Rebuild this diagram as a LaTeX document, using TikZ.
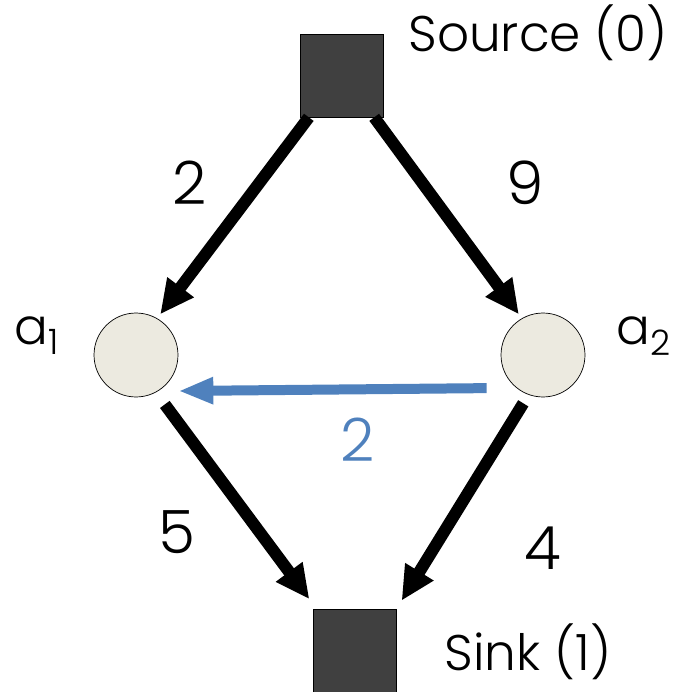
\documentclass[tikz,border=0pt]{standalone}
\usepackage{fontspec}
\setmainfont{Poppins Light}
\usetikzlibrary{arrows.meta,positioning}
\definecolor{darkbox}{RGB}{64, 64, 64}
\definecolor{nodefill}{RGB}{236, 234, 224}
\definecolor{flowblue}{RGB}{79, 129, 189}

\begin{document}
\begin{tikzpicture}[
    x=0.02cm, y=-0.02cm,
    terminal/.style={rectangle, draw=black, thin, fill=darkbox,
        minimum size=1.66cm, inner sep=0pt},
    inner/.style={circle, draw=black, thin, fill=nodefill,
        minimum size=1.68cm, inner sep=0pt},
    flow/.style={-{Triangle[length=0.68cm, width=0.62cm]}, line width=0.24cm},
    backflow/.style={-{Triangle[length=0.7cm, width=0.5cm]}, line width=0.2cm,
        draw=flowblue},
    cost/.style={font=\fontsize{34}{38}\selectfont},
    label/.style={font=\fontsize{28.5}{33}\selectfont}
]
\useasboundingbox (0,0) rectangle (675,692);

% Quelle, Senke und Zwischenknoten
\node[terminal] (src) at (341.5,75.5) {};
\node[terminal] (snk) at (354.5,651) {};
\node[inner] (a1) at (136,355) {};
\node[inner] (a2) at (543,355) {};

\node[label] (srclabel) at (538,33) {Source (0)};
\node[label] (snklabel) at (528,652) {Sink (1)};
\node[label] (a1label) at (37,336) {a\textsubscript{1}};
\node[label] (a2label) at (644,336) {a\textsubscript{2}};

% Kanten mit Kosten
\draw[flow, shorten >=0.1cm] (src.232) -- (a1.60);
\draw[flow, shorten >=0.1cm] (src.-52) -- (a2.120);
\draw[flow, shorten <=0.3cm, shorten >=0.25cm] (a1.-62) -- (snk.132);
\draw[flow, shorten <=0.2cm, shorten >=0.2cm] (a2.-110) -- (snk.north east);
\draw[backflow, shorten <=0.28cm] ([yshift=-0.66cm]a2.west) -- ([yshift=-0.72cm]a1.east);

\node[cost] (c1) at (190,183) {2};
\node[cost] (c2) at (525,183) {9};
\node[cost] (c3) at (177,532) {5};
\node[cost] (c4) at (543,548) {4};
\node[cost, text=flowblue] (c5) at (358,440) {2};

\end{tikzpicture}
\end{document}
